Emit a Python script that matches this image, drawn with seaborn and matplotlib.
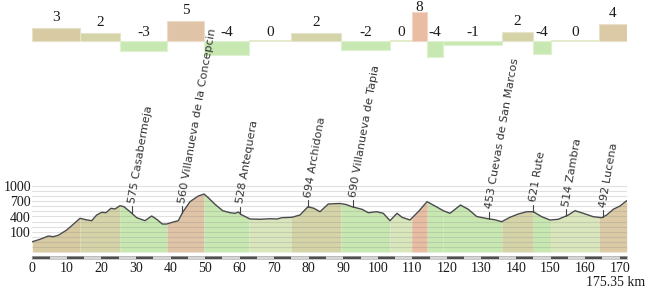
import numpy as np
import pandas as pd
import matplotlib
matplotlib.use("Agg")
import matplotlib.pyplot as plt
import seaborn as sns

# ---------------- data ----------------
km = [0, 2.23, 4.63, 6.08, 7.53, 9.96, 11.87, 13.81, 15.92, 17.19, 18.64, 20.09,
      21.33, 22.78, 23.94, 25.38, 26.54, 28.28, 30.22, 32.62, 34.56, 36.01, 37.63,
      38.90, 40.81, 42.26, 43.53, 45.64, 48.05, 49.70, 50.94, 52.89, 55.11, 57.22,
      58.67, 59.68, 60.41, 63.01, 65.91, 68.80, 70.82, 72.27, 75.17, 77.48, 79.80,
      81.53, 83.27, 85.67, 89.06, 90.80, 92.53, 95.43, 97.25, 99.68, 101.59, 103.53,
      105.56, 107.01, 109.32, 111.92, 114.24, 116.56, 118.96, 120.90, 123.94, 126.19,
      128.63, 131.52, 132.47, 133.92, 135.86, 138.26, 140.67, 143.10, 145.01, 147.44,
      149.84, 152.24, 155.14, 157.08, 159.48, 162.37, 164.80, 166.25, 168.16, 170.10,
      172.04]
elev = [10, 56, 120, 107, 134, 237, 348, 464, 431, 418, 528, 581,
        573, 658, 645, 709, 689, 592, 476, 418, 509, 445, 353,
        353, 392, 418, 581, 787, 897, 936, 864, 736, 612, 573,
        561, 586, 538, 451, 445, 456, 451, 476, 484, 528, 689,
        658, 592, 742, 752, 732, 689, 639, 573, 592, 561, 418,
        561, 484, 431, 606, 787, 703, 612, 561, 722, 639,
        499, 460, 451, 435, 398, 484, 548, 592, 592, 495,
        431, 445, 528, 612, 561, 495, 476, 528, 639, 703,
        806]

seg_edges = [0, 13.8, 25.4, 39.0, 49.7, 62.7, 74.9, 89.3, 103.5, 109.8, 114.3,
             118.9, 135.9, 145.0, 150.0, 164.1, 172.04]
seg_grade = [3, 2, -3, 5, -4, 0, 2, -2, 0, 8, -4, -1, 2, -4, 0, 4]
seg_bar = [3.1, 1.85, -2.6, 5.0, -3.65, 0, 1.85, -2.3, 0, 7.1, -4.15, -1.1, 2.25, -3.4, 0, 4.1]

town_km = [28.77, 43.42, 60.12, 79.71, 92.74, 132.19, 145.0, 154.38, 165.09]
town_label = ["575 Casabermeja", "560 Villanueva de la Concepcin", "528 Antequera",
              "694 Archidona", "690 Villanueva de Tapia", "453 Cuevas de San Marcos",
              "621 Rute", "514 Zambra", "492 Lucena"]

xtick_vals = [0, 10, 20, 30, 40, 50, 60, 70, 80, 90, 100, 110, 120, 130, 140, 150, 160, 170]
ytick_vals = [100, 400, 700, 1000]
total_label = "175.35 km"


def grade_color(g):
    if g < 0:
        return "#c8e8b2"
    if g == 0:
        return "#dae6bc"
    if g <= 2:
        return "#d5d4a9"
    if g == 3:
        return "#d8cba4"
    if g == 4:
        return "#dccaa6"
    if g <= 6:
        return "#e0c4a7"
    return "#e9bca4"


def lighter(c, f=0.35):
    r, g, b = matplotlib.colors.to_rgb(c)
    return (r + (1 - r) * f, g + (1 - g) * f, b + (1 - b) * f)


sns.set_theme(style="white")
plt.rcParams["font.family"] = ["DejaVu Sans"]

W, H = 650, 290
fig = plt.figure(figsize=(W / 100, H / 100), dpi=100)


def px_axes(x0, x1, y0, y1):
    return fig.add_axes([x0 / W, 1 - y1 / H, (x1 - x0) / W, (y1 - y0) / H])


SERIF = "Liberation Serif"
x0p, x1p = 32.3, 626.7
kmax = km[-1]

# ---------------- top gradient bars ----------------
ax_top = px_axes(x0p, x1p, 0, 70)
ax_top.set_xlim(0, kmax)
ax_top.set_ylim(-7.325, 10.175)
for i, g in enumerate(seg_grade):
    e0, e1 = seg_edges[i], seg_edges[i + 1]
    h = seg_bar[i]
    c = grade_color(g)
    if h == 0:
        ax_top.plot([e0, e1], [0, 0], color="#e2e9c8", lw=1.3, solid_capstyle="butt")
    else:
        ax_top.bar(e0, h, width=e1 - e0, align="edge", color=c,
                   edgecolor=lighter(c, 0.4), linewidth=0.8)
    ly = min(max(h, 0) + (2.6 if h > 0 else 2.1), 8.35)
    ax_top.text((e0 + e1) / 2, ly, str(g), ha="center", va="center",
                fontsize=11, family=SERIF, color="#1a1a1a")
ax_top.axis("off")

# ---------------- main profile ----------------
ax = px_axes(x0p, x1p, 180, 252)
ax.set_zorder(3)
ax.patch.set_visible(False)
ybot, ytop = -190, 1208
ax.set_xlim(0, kmax)
ax.set_ylim(ybot, ytop)

km_a = np.asarray(km, float)
el_a = np.asarray(elev, float)
xs = np.union1d(km_a, np.asarray(seg_edges, float))
ys = np.interp(xs, km_a, el_a)
for i, g in enumerate(seg_grade):
    e0, e1 = seg_edges[i], seg_edges[i + 1]
    m = (xs >= e0) & (xs <= e1)
    ax.fill_between(xs[m], ys[m], ybot, color=grade_color(g), lw=0, zorder=1)

for v in range(-100, 1101, 100):
    ax.axhline(v, color="#808080", alpha=0.24, lw=0.8, zorder=2)

df = pd.DataFrame({"km": km, "elev": elev})
sns.lineplot(data=df, x="km", y="elev", ax=ax, color="#4a4a4a", lw=1.0, zorder=3)
ax.set_xlabel("")
ax.set_ylabel("")

px_m = (ytop - ybot) / 72.0
for k, lab in zip(town_km, town_label):
    e = float(np.interp(k, km_a, el_a))
    top = e + 7 * px_m
    ax.plot([k, k], [e, top], color="#444444", lw=0.8, clip_on=False, zorder=4)
    ax.text(k, top + 3 * px_m, lab, rotation=80, rotation_mode="anchor",
            ha="left", va="center", fontsize=8.1, color="#333333",
            clip_on=False, zorder=5)

ax.set_xticks([])
ax.set_yticks(ytick_vals)
ax.set_yticklabels([str(v) for v in ytick_vals], fontsize=10, family=SERIF, color="#1a1a1a")
for t in ax.get_yticklabels():
    t.set_verticalalignment("baseline")
ax.tick_params(axis="y", length=0, pad=1)
sns.despine(ax=ax, left=True, bottom=True)

# ---------------- scale bar ----------------
ax_sb = px_axes(x0p, x1p, 255.5, 259)
ax_sb.set_xlim(0, kmax)
ax_sb.set_ylim(0, 1)
ax_sb.set_facecolor("#d6d6d6")
for s in range(0, int(kmax) + 1, 10):
    ax_sb.axvspan(s, min(s + 5, kmax), color="#505050", lw=0)
for sp in ax_sb.spines.values():
    sp.set_color("#b0b0b0")
    sp.set_linewidth(0.5)
ax_sb.set_yticks([])
ax_sb.set_xticks(xtick_vals)
ax_sb.set_xticklabels([str(v) for v in xtick_vals], fontsize=10, family=SERIF, color="#1a1a1a")
ax_sb.tick_params(axis="x", length=0, pad=2.5)

fig.text(645 / W, 1 - 283 / H, total_label, ha="right", va="center",
         fontsize=10, family=SERIF, color="#1a1a1a")

fig.savefig("out.png", dpi=100, facecolor="white")
